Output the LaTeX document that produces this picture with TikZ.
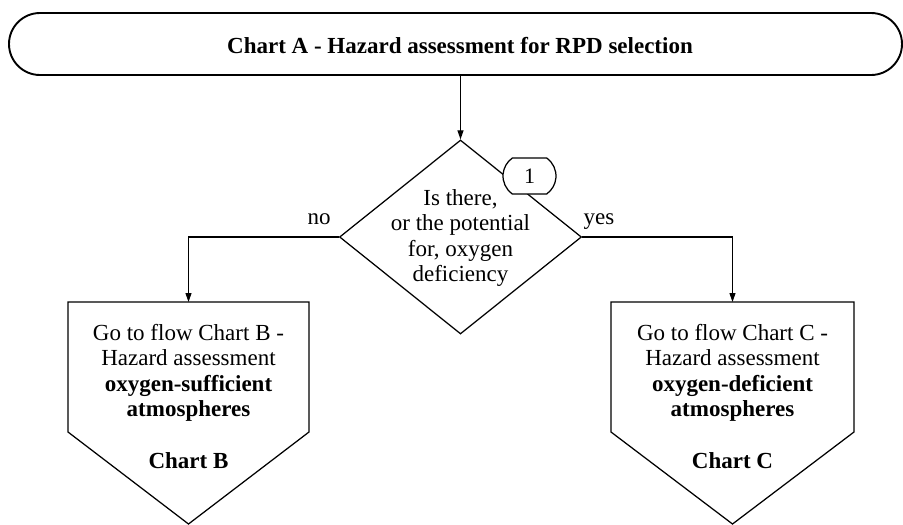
\documentclass[tikz,border=0pt]{standalone}
\usepackage{fontspec}
\setmainfont{Liberation Serif}
\usetikzlibrary{shapes.geometric,shapes.misc,arrows.meta}
\begin{document}
\begin{tikzpicture}[x=1pt,y=-1pt,
  line join=miter,
  termbox/.style={draw,line width=1.9pt,rounded rectangle,minimum width=893pt,minimum height=62pt,inner sep=0pt},
  shapeline/.style={draw,line width=1.25pt},
  conn/.style={line width=1.1pt,-{Triangle[length=9pt,width=6pt]}},
  txt/.style={font=\fontsize{23}{25.5}\selectfont,align=center,inner sep=0pt},
  lbl/.style={font=\fontsize{23}{25.5}\selectfont,inner sep=0pt,anchor=base}]
\useasboundingbox (0,0) rectangle (903,525);
% terminator
\node[termbox] (A) at (455.5,44) {};
\node[txt,font=\fontsize{23}{25.5}\selectfont\bfseries,anchor=base] (At) at (460,53) {Chart A - Hazard assessment for RPD selection};
% decision
\node[diamond,shapeline,minimum width=242pt,minimum height=194pt,inner sep=0pt] (D) at (460.5,237) {};
\node[txt] (Dt) at (460.5,238) {Is there,\\or the potential\\for, oxygen\\deficiency};
\node[rounded rectangle,rounded rectangle arc length=110,shapeline,fill=white,minimum width=53pt,minimum height=36pt,inner sep=0pt,font=\fontsize{22}{24}\selectfont] (one) at (529.5,176) {1};
% off-page boxes
\coordinate (B) at (188.5,302);
\coordinate (C) at (732.5,302);
\draw[shapeline] (68,302) -- (309,302) -- (309,432) -- (188.5,524) -- (68,432) -- cycle;
\draw[shapeline] (611,302) -- (854,302) -- (854,432) -- (732.5,524) -- (611,432) -- cycle;
\node[txt] (Bt) at (188.5,373) {Go to flow Chart B -\\Hazard assessment\\\textbf{oxygen-sufficient}\\\textbf{atmospheres}};
\node[lbl,font=\fontsize{23}{25.5}\selectfont\bfseries] (Bc) at (188.5,468) {Chart B};
\node[txt] (Ct) at (732.5,373) {Go to flow Chart C -\\Hazard assessment\\\textbf{oxygen-deficient}\\\textbf{atmospheres}};
\node[lbl,font=\fontsize{23}{25.5}\selectfont\bfseries] (Cc) at (732.5,468) {Chart C};
% connectors
\draw[conn] (A.south -| D.north) -- (D.north);
\draw[conn] (D.west) -| (B);
\draw[conn] (D.east) -| (C);
\node[lbl] (no) at (319,224) {no};
\node[lbl] (yes) at (599,224) {yes};
\end{tikzpicture}
\end{document}
